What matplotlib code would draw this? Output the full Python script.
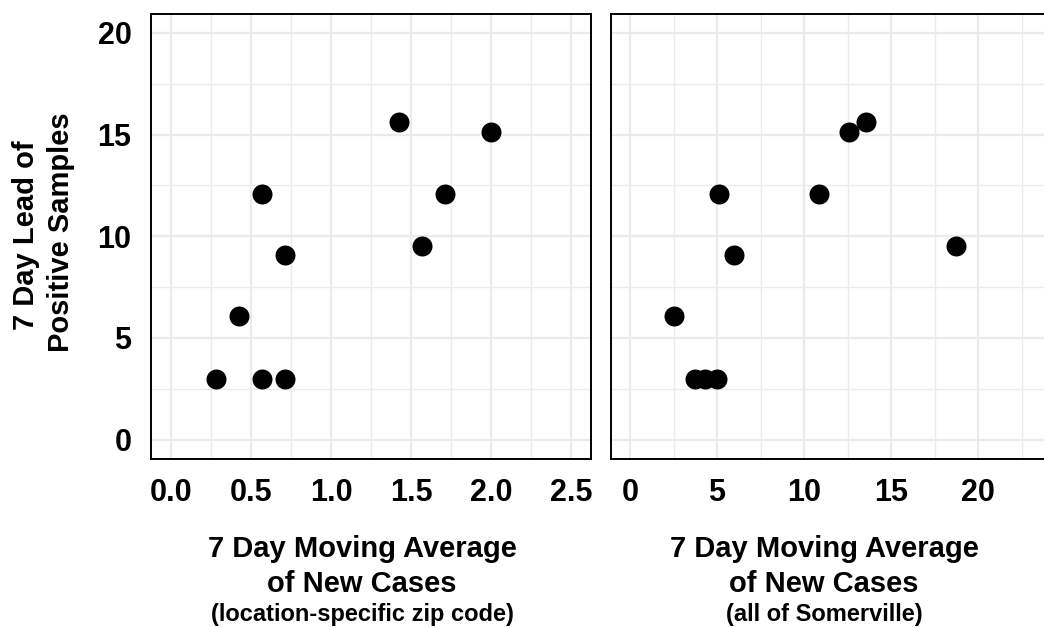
import matplotlib
matplotlib.use("Agg")
import matplotlib.pyplot as plt
from matplotlib.ticker import MultipleLocator

plt.rcParams['font.family'] = ['Liberation Sans', 'DejaVu Sans']
plt.rcParams['font.weight'] = 'bold'

# Data: 7-day lead of positive samples vs. 7-day moving average of new cases
zip_avg = [0.28, 0.567, 0.71, 0.423, 0.567, 0.71, 1.425, 2.0, 1.71, 1.57]
zip_lead = [3, 3, 3, 6.1, 12.1, 9.1, 15.6, 15.15, 12.1, 9.5]
city_avg = [3.73, 4.31, 5.01, 2.54, 5.13, 5.99, 10.85, 12.55, 13.55, 18.71]
city_lead = [3, 3, 3, 6.1, 12.1, 9.1, 12.1, 15.15, 15.6, 9.5]

left_ticks = [0.0, 0.5, 1.0, 1.5, 2.0, 2.5]
left_ticklabels = ["0.0", "0.5", "1.0", "1.5", "2.0", "2.5"]
right_ticks = [0, 5, 10, 15, 20]
y_ticks = [0, 5, 10, 15, 20]

W, H = 1044, 628
fig = plt.figure(figsize=(W / 100, H / 100), dpi=100)

def px_axes(x0, y0, x1, y1):
    return fig.add_axes([x0 / W, 1 - y1 / H, (x1 - x0) / W, (y1 - y0) / H])

ax1 = px_axes(151, 14, 590.7, 459)
ax2 = px_axes(611, 14, 1050.7, 459)

grid_col = '#EBEBEB'
TICK_FS = 22
for ax in (ax1, ax2):
    ax.set_facecolor('white')
    ax.set_ylim(-0.95, 20.93)
    ax.yaxis.set_minor_locator(MultipleLocator(2.5))
    ax.grid(which='major', color=grid_col, linewidth=1.6)
    ax.grid(which='minor', color=grid_col, linewidth=1.0)
    ax.set_axisbelow(True)
    for s in ax.spines.values():
        s.set_linewidth(1.4)
        s.set_color('black')
    ax.tick_params(which='both', length=0, pad=14, labelsize=TICK_FS, labelcolor='black')

ax1.set_xlim(-0.125, 2.623)
ax1.xaxis.set_minor_locator(MultipleLocator(0.25))
ax1.set_xticks(left_ticks)
ax1.set_xticklabels(left_ticklabels, fontweight='bold', fontsize=TICK_FS)
ax1.set_yticks(y_ticks)
ax1.set_yticklabels([str(v) for v in y_ticks], fontweight='bold', fontsize=TICK_FS)
ax1.plot(zip_avg, zip_lead, 'o', color='black', markersize=14.4, markeredgewidth=0)

ax2.set_xlim(-1.09, 24.15)
ax2.xaxis.set_minor_locator(MultipleLocator(2.5))
ax2.set_xticks(right_ticks)
ax2.set_xticklabels([str(v) for v in right_ticks], fontweight='bold', fontsize=TICK_FS)
ax2.set_yticks(y_ticks)
ax2.tick_params(labelleft=False)
ax2.plot(city_avg, city_lead, 'o', color='black', markersize=14.4, markeredgewidth=0)

def ftext(x, y, s, size, **kw):
    fig.text(x / W, 1 - y / H, s, fontsize=size, fontweight='bold', color='black', **kw)

for cx, sub in ((362, "(location-specific zip code)"), (824, "(all of Somerville)")):
    ftext(cx, 556.7, "7 Day Moving Average", 21, ha='center', va='baseline')
    ftext(cx, 591.7, "of New Cases", 21, ha='center', va='baseline')
    ftext(cx, 621, sub, 17, ha='center', va='baseline')

ftext(26.5, 235, "7 Day Lead of", 21, ha='center', va='center', rotation=90)
ftext(61, 232, "Positive Samples", 21, ha='center', va='center', rotation=90)

fig.savefig("out.png", dpi=100)
